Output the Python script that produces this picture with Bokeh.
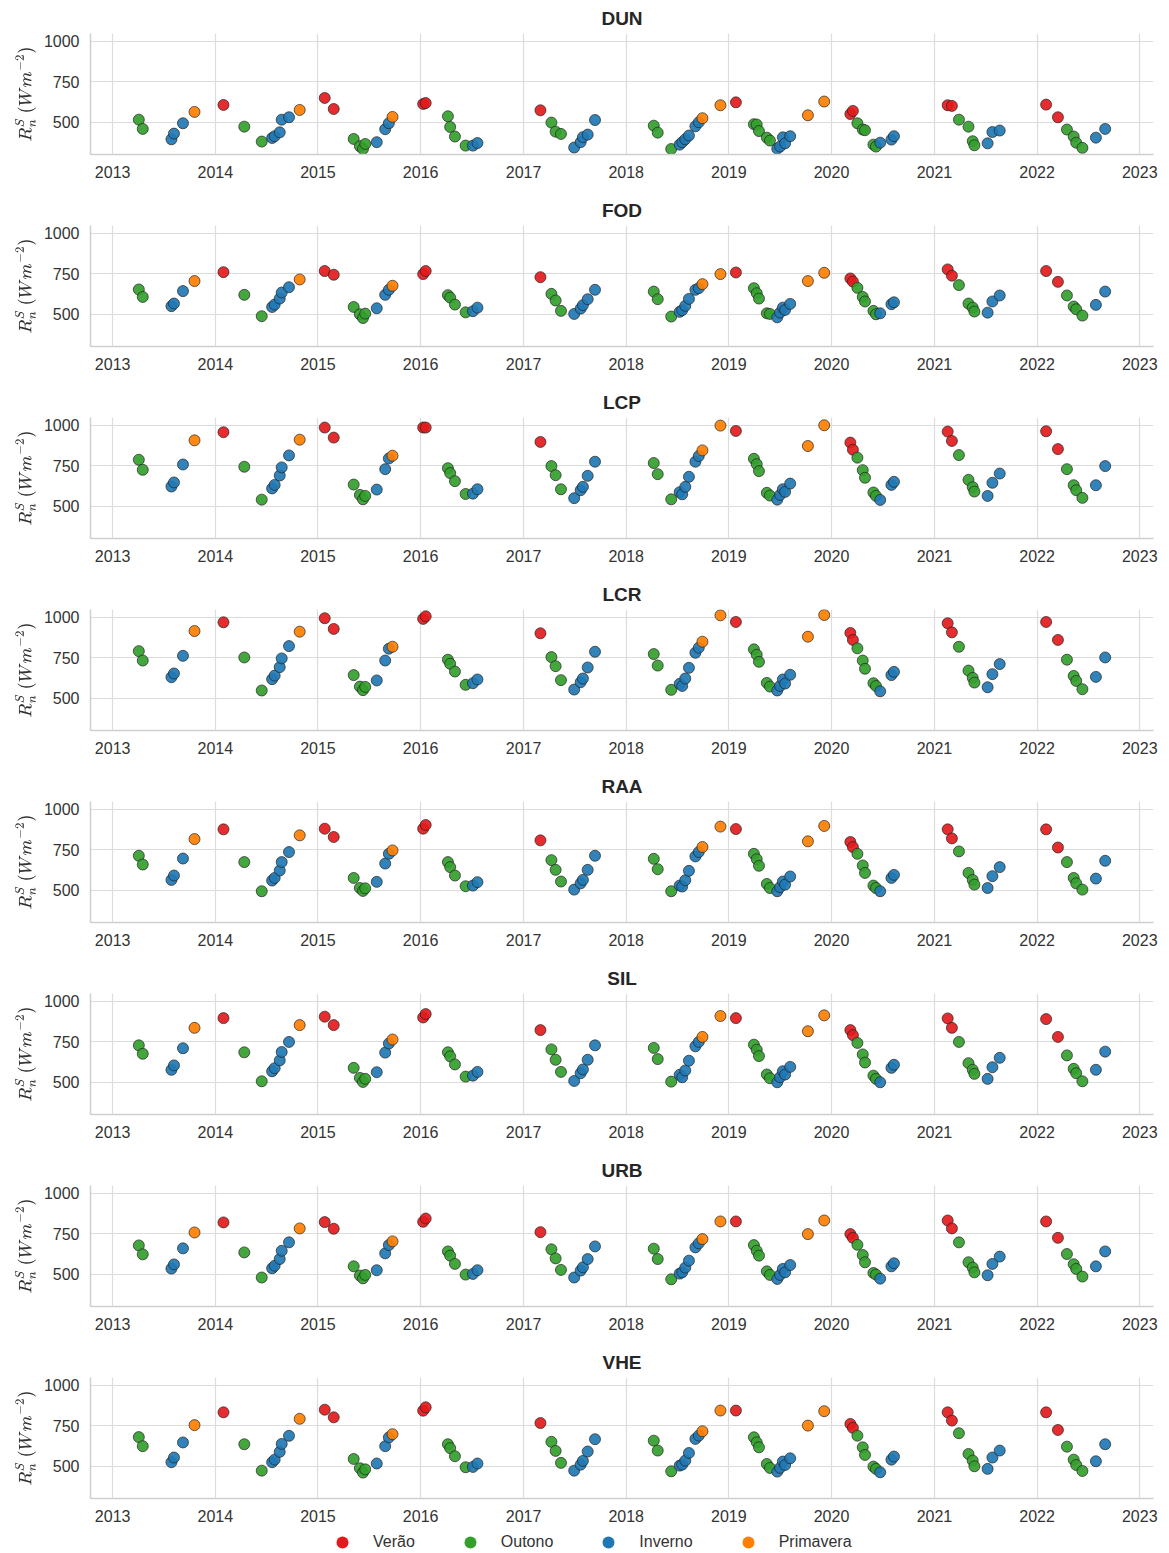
import pandas as pd
from bokeh.plotting import figure
from bokeh.models import (ColumnDataSource, FixedTicker, DatetimeTickFormatter,
                          Range1d, Legend, LegendItem)
from bokeh.layouts import column
from bokeh.embed import file_html
from bokeh.resources import INLINE

# ---------------- data ----------------
dates = [
    "2013-04-04", "2013-04-18", "2013-07-29", "2013-08-07", "2013-09-08", "2013-10-19",
    "2014-01-30", "2014-04-14", "2014-06-15", "2014-07-22", "2014-07-31", "2014-08-18",
    "2014-08-25", "2014-09-20", "2014-10-28",
    "2015-01-25", "2015-02-26", "2015-05-08", "2015-05-30", "2015-06-10", "2015-06-18",
    "2015-07-29", "2015-08-28", "2015-09-10", "2015-09-23",
    "2016-01-10", "2016-01-19", "2016-04-07", "2016-04-15", "2016-05-02", "2016-06-09",
    "2016-07-05", "2016-07-21",
    "2017-03-02", "2017-04-10", "2017-04-25", "2017-05-14", "2017-06-30", "2017-07-23",
    "2017-07-31", "2017-08-17", "2017-09-12",
    "2018-04-09", "2018-04-23", "2018-06-10", "2018-07-10", "2018-07-19", "2018-07-30",
    "2018-08-12", "2018-09-04", "2018-09-16", "2018-09-29", "2018-12-02",
    "2019-01-26", "2019-03-31", "2019-04-10", "2019-04-18", "2019-05-16", "2019-05-27",
    "2019-06-22", "2019-07-02", "2019-07-12", "2019-07-20", "2019-08-07", "2019-10-09",
    "2019-12-06",
    "2020-03-08", "2020-03-17", "2020-04-02", "2020-04-21", "2020-04-29", "2020-05-29",
    "2020-06-07", "2020-06-22", "2020-08-01", "2020-08-10",
    "2021-02-17", "2021-03-04", "2021-03-29", "2021-05-02", "2021-05-17", "2021-05-23",
    "2021-07-09", "2021-07-26", "2021-08-21",
    "2022-02-02", "2022-03-16", "2022-04-17", "2022-05-11", "2022-05-20", "2022-06-11",
    "2022-07-29", "2022-08-31",
]

V, O, I, P = "Verão", "Outono", "Inverno", "Primavera"
seasons = [
    O, O, I, I, I, P,
    V, O, O, I, I, I, I, I, P,
    V, V, O, O, O, O, I, I, I, P,
    V, V, O, O, O, O, I, I,
    V, O, O, O, I, I, I, I, I,
    O, O, O, I, I, I, I, I, I, P, P,
    V, O, O, O, O, O, I, I, I, I, I, P, P,
    V, V, O, O, O, O, O, I, I, I,
    V, V, O, O, O, O, I, I, I,
    V, V, O, O, O, O, I, I,
]

season_names = ["Verão", "Outono", "Inverno", "Primavera"]
season_colors = ["#e31a1c", "#33a02c", "#1f78b4", "#ff7f00"]

stations = ["DUN", "FOD", "LCP", "LCR", "RAA", "SIL", "URB", "VHE"]

DUN = [516, 459, 395, 430, 494, 564, 607, 473, 381, 403, 414, 438, 516, 531, 576,
       650, 582, 397, 352, 335, 366, 377, 457, 494, 533, 613, 619, 537, 471, 412, 356,
       356, 372, 574, 498, 442, 428, 344, 377, 408, 424, 514,
       479, 436, 335, 362, 377, 395, 418, 475, 500, 525, 605,
       623, 488, 486, 446, 405, 387, 337, 350, 407, 370, 414, 543, 628,
       551, 570, 494, 455, 451, 362, 350, 374, 393, 414,
       605, 601, 516, 473, 383, 358, 370, 440, 449,
       609, 531, 455, 412, 374, 342, 405, 459]

FOD = [653, 607, 550, 566, 643, 705, 760, 620, 488, 545, 560, 597, 634, 667, 715,
       767, 744, 545, 500, 477, 504, 537, 620, 651, 676, 748, 767, 618, 603, 560, 512,
       519, 541, 729, 626, 585, 521, 502, 535, 556, 593, 651,
       640, 593, 486, 515, 525, 552, 595, 651, 661, 686, 748,
       758, 661, 630, 597, 506, 502, 481, 510, 541, 527, 564, 705, 756,
       721, 702, 663, 607, 579, 521, 500, 506, 562, 574,
       777, 738, 680, 566, 541, 517, 510, 579, 616,
       767, 700, 616, 548, 531, 492, 558, 640]

LCP = [787, 725, 622, 647, 758, 907, 957, 744, 541, 610, 632, 690, 740, 814, 911,
       986, 924, 634, 570, 543, 564, 603, 729, 795, 812, 986, 986, 735, 705, 655, 576,
       578, 605, 897, 748, 692, 605, 550, 599, 620, 688, 775,
       767, 698, 543, 587, 574, 620, 682, 775, 810, 845, 998,
       965, 793, 760, 717, 583, 566, 541, 570, 605, 589, 640, 872, 1000,
       893, 849, 800, 723, 676, 585, 564, 539, 632, 651,
       961, 903, 816, 663, 618, 591, 564, 645, 702,
       963, 853, 729, 630, 599, 552, 630, 748]

LCR = [791, 733, 630, 653, 762, 915, 969, 752, 548, 618, 640, 692, 746, 822, 911,
       994, 928, 643, 572, 550, 570, 610, 733, 806, 818, 990, 1006, 738, 713, 665, 583,
       593, 616, 901, 754, 698, 612, 554, 599, 622, 690, 787,
       773, 702, 552, 589, 576, 622, 688, 781, 812, 849, 1012,
       971, 802, 769, 725, 595, 572, 548, 576, 616, 591, 645, 880, 1014,
       903, 860, 808, 733, 682, 593, 576, 543, 643, 663,
       963, 907, 818, 671, 626, 597, 568, 649, 711,
       971, 860, 738, 638, 607, 556, 632, 752]

RAA = [713, 659, 564, 591, 696, 816, 876, 674, 494, 560, 576, 622, 674, 736, 839,
       880, 829, 576, 514, 496, 512, 552, 665, 725, 746, 880, 903, 674, 643, 591, 525,
       529, 550, 808, 686, 626, 554, 504, 543, 564, 626, 713,
       694, 630, 494, 529, 523, 562, 620, 709, 736, 767, 893,
       878, 725, 692, 651, 539, 514, 494, 519, 554, 535, 585, 802, 897,
       798, 767, 725, 653, 607, 529, 514, 494, 576, 595,
       876, 820, 740, 607, 564, 535, 514, 587, 643,
       876, 764, 674, 576, 543, 504, 572, 682]

SIL = [728, 676, 577, 604, 710, 836, 896, 685, 506, 568, 587, 635, 687, 749, 853,
       905, 853, 589, 527, 502, 521, 562, 683, 739, 764, 900, 921, 685, 660, 610, 535,
       541, 564, 822, 703, 639, 564, 508, 556, 579, 639, 728,
       712, 643, 504, 546, 531, 573, 633, 722, 749, 780, 909,
       896, 732, 701, 662, 548, 525, 500, 531, 568, 548, 595, 815, 913,
       822, 791, 743, 672, 622, 541, 521, 500, 589, 608,
       894, 836, 749, 618, 577, 552, 521, 593, 651,
       890, 780, 666, 583, 556, 506, 577, 689]

URB = [678, 623, 535, 561, 660, 758, 820, 635, 480, 537, 553, 594, 645, 697, 783,
       822, 781, 549, 492, 475, 496, 525, 629, 680, 703, 824, 844, 641, 615, 564, 498,
       502, 525, 760, 654, 598, 527, 480, 523, 543, 594, 672,
       658, 594, 469, 504, 512, 541, 584, 666, 691, 717, 826,
       826, 680, 645, 615, 518, 496, 471, 496, 533, 512, 557, 748, 832,
       748, 725, 682, 619, 574, 508, 498, 473, 549, 568,
       832, 783, 697, 574, 541, 512, 494, 564, 609,
       826, 725, 625, 562, 533, 486, 549, 641]

VHE = [680, 624, 525, 554, 647, 754, 833, 636, 473, 525, 541, 589, 638, 688, 793,
       849, 802, 545, 488, 461, 481, 517, 624, 678, 698, 843, 864, 636, 612, 562, 494,
       496, 517, 767, 651, 595, 521, 473, 510, 533, 591, 667,
       658, 597, 469, 504, 510, 535, 582, 669, 689, 716, 844,
       844, 679, 648, 617, 514, 490, 467, 490, 529, 508, 549, 751, 840,
       761, 737, 689, 617, 570, 498, 484, 463, 541, 560,
       833, 782, 704, 576, 535, 500, 484, 554, 597,
       833, 724, 621, 541, 508, 471, 531, 636]

station_values = {"DUN": DUN, "FOD": FOD, "LCP": LCP, "LCR": LCR,
                  "RAA": RAA, "SIL": SIL, "URB": URB, "VHE": VHE}

year_ticks = list(range(2013, 2024))
y_ticks = [500, 750, 1000]

# ---------------- build ----------------
FONT = "Liberation Sans"
x = pd.to_datetime(dates)
color_of = dict(zip(season_names, season_colors))
colors = [color_of[s] for s in seasons]

xspan = x.max() - x.min()
x_range = Range1d(x.min() - 0.05 * xspan, x.max() + 0.05 * xspan)
all_vals = [v for st in stations for v in station_values[st]]
vspan = max(all_vals) - min(all_vals)
y0, y1 = min(all_vals) - 0.05 * vspan, max(all_vals) + 0.05 * vspan

tick_ms = [pd.Timestamp(f"{y}-01-01").value // 10**6 for y in year_ticks]
fmt = DatetimeTickFormatter(years="%Y", months="%Y", days="%Y", hours="%Y",
                            hourmin="%Y", minutes="%Y", minsec="%Y", seconds="%Y",
                            milliseconds="%Y", microseconds="%Y")

figs = []
for i, st in enumerate(stations):
    last = i == len(stations) - 1
    vals = station_values[st]
    assert len(vals) == len(dates) == len(seasons)
    src = ColumnDataSource(dict(x=x, y=vals, season=seasons, color=colors))
    p = figure(title=st, x_axis_type="datetime",
               frame_width=1063, frame_height=121,
               min_border_left=90, min_border_right=10, min_border_top=33,
               min_border_bottom=30 if last else 38,
               x_range=x_range, y_range=Range1d(y0, y1),
               output_backend="svg", toolbar_location=None)
    p.title.text_font = FONT
    p.title.text_font_size = "19px"
    p.title.text_font_style = "bold"
    p.title.text_color = "#262626"
    p.title.align = "center"
    p.title.standoff = 9

    p.xaxis.ticker = FixedTicker(ticks=tick_ms)
    p.xaxis.formatter = fmt
    p.yaxis.ticker = FixedTicker(ticks=y_ticks)
    for ax in (p.xaxis[0], p.yaxis[0]):
        ax.major_tick_line_color = None
        ax.minor_tick_line_color = None
        ax.axis_line_color = "#cfcfcf"
        ax.axis_line_width = 1.5
        ax.major_label_text_font = FONT
        ax.major_label_text_font_size = "16px"
        ax.major_label_text_color = "#333333"
        ax.major_label_standoff = 5
    p.yaxis.axis_label = r"$$R^{S}_{n}\ (Wm^{-2})$$"
    p.yaxis.axis_label_text_font_size = "14px"
    p.yaxis.axis_label_text_color = "#333333"
    p.yaxis.axis_label_standoff = 5

    p.grid.grid_line_color = "#dcdcdc"
    p.grid.grid_line_width = 1.2
    p.outline_line_color = None

    p.scatter("x", "y", source=src, size=11, fill_color="color", fill_alpha=0.92,
              line_color="#222222", line_width=0.7)
    figs.append(p)

# legend strip below the panels (proxy markers lie outside its visible range)
lg = figure(width=1163, height=25, min_border=0, x_axis_location=None,
            y_axis_location=None, output_backend="svg", toolbar_location=None,
            x_range=Range1d(0, 1), y_range=Range1d(0, 1))
lg.grid.visible = False
lg.outline_line_color = None
items = []
for s in season_names:
    r = lg.scatter(x=[-5], y=[-5], size=12, fill_color=color_of[s], line_color=None)
    items.append(LegendItem(label=s, renderers=[r]))
legend = Legend(items=items, orientation="horizontal", location=(237, -4),
                glyph_width=30, glyph_height=30, label_standoff=16, spacing=40,
                padding=0, margin=0, border_line_color=None,
                background_fill_alpha=0,
                label_text_font=FONT, label_text_font_size="16px",
                label_text_color="#333333", label_height=16)
lg.add_layout(legend, "center")
figs.append(lg)

layout = column(*figs)
open("out.html", "w").write(file_html(layout, INLINE, title="Rn"))
